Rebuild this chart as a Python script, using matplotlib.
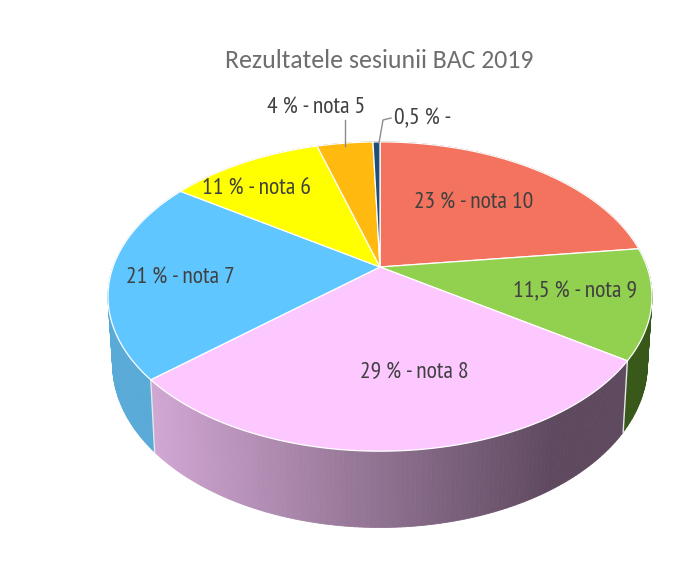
import numpy as np
import matplotlib
matplotlib.use("Agg")
import matplotlib.pyplot as plt
from matplotlib.colors import to_rgb

# slices, clockwise from 12 o'clock
values = [23, 11.5, 29, 21, 11, 4, 0.5]
labels = ["23 % - nota 10", "11,5 % - nota 9", "29 % - nota 8", "21 % - nota 7",
          "11 % - nota 6", "4 % - nota 5", "0,5 % -"]
title = "Rezultatele sesiunii BAC 2019"

top_colors = ["#F4735F", "#92D050", "#FCC8FF", "#60C6FF", "#FFFF00", "#FFB90F", "#1F4E79"]
side_left = ["#B5503F", "#3C5F1C", "#D0A6D2", "#5AAAD8", "#B0B000", "#B08000", "#123050"]
side_right = ["#B5503F", "#375819", "#5E495F", "#4D9CCB", "#B0B000", "#B08000", "#123050"]
label_pos = [(474, 203), (575, 292), (414, 373), (180, 278), (257, 189), (316, 108), (423, 119)]

# perspective of the pie in pixel units
cx, cy = 380, 267
rx, ry, persp = 267, 149, 0.191


def top_rim(t):
    u, v = np.sin(t), np.cos(t)
    d = 1 + persp * v
    return cx + rx * u / d, cy - ry * v / d


def bottom_rim(t):
    x, y = top_rim(t)
    return cx + (x - cx) * 0.983, 333 + 1.056 * (y - cy)


fig = plt.figure(figsize=(6.96, 5.64), dpi=100)
ax = fig.add_axes([0, 0, 1, 1])
ax.set_xlim(0, 696)
ax.set_ylim(564, 0)
ax.axis("off")

edges = np.cumsum([0] + values) / sum(values) * 2 * np.pi

# side wall first, as narrow strips so the shading can run left to right
for i in range(len(values)):
    ts = np.linspace(edges[i], edges[i + 1], max(int(values[i] * 4), 2) + 1)
    c0, c1 = np.array(to_rgb(side_left[i])), np.array(to_rgb(side_right[i]))
    for a, b in zip(ts[:-1], ts[1:]):
        xa, ya = top_rim(a)
        xb, yb = top_rim(b)
        xc, yc = bottom_rim(b)
        xd, yd = bottom_rim(a)
        f = np.clip(((xa + xb) / 2 - 155) / (470 * 0.85), 0, 1)
        col = c0 + (c1 - c0) * f
        ax.fill([xa, xb, xc, xd], [ya, yb, yc, yd], color=col, lw=0.6, zorder=1)

# light seams on the wall where front slices meet
for e in [edges[2], edges[3]]:
    x0, y0 = top_rim(e)
    x1, y1 = bottom_rim(e)
    ax.plot([x0, x1], [y0, y1], color="#E8E8E8", lw=1, zorder=2)

# top face
for i in range(len(values)):
    ts = np.linspace(edges[i], edges[i + 1], 200)
    xs, ys = top_rim(ts)
    ax.fill(np.r_[cx, xs], np.r_[cy, ys], facecolor=top_colors[i],
            edgecolor="#FFFFFF", lw=0.9, zorder=3)

# leader lines for the two outside labels
ax.plot([345, 345], [120, 146], color="#8C8C8C", lw=1, zorder=4)
ax.plot([391, 383, 379], [118, 120, 143], color="#8C8C8C", lw=1, zorder=4)

for lab, (x, y) in zip(labels, label_pos):
    ax.text(x, y, lab, ha="center", va="center", fontsize=17, color="#404040",
            family=["PT Sans Narrow", "Liberation Sans"], zorder=5)

ax.text(379, 61, title, ha="center", va="center", fontsize=18.5, color="#6E6E6E",
        family=["Carlito", "Lato", "DejaVu Sans"], zorder=5)

fig.savefig("out.png", dpi=100)
